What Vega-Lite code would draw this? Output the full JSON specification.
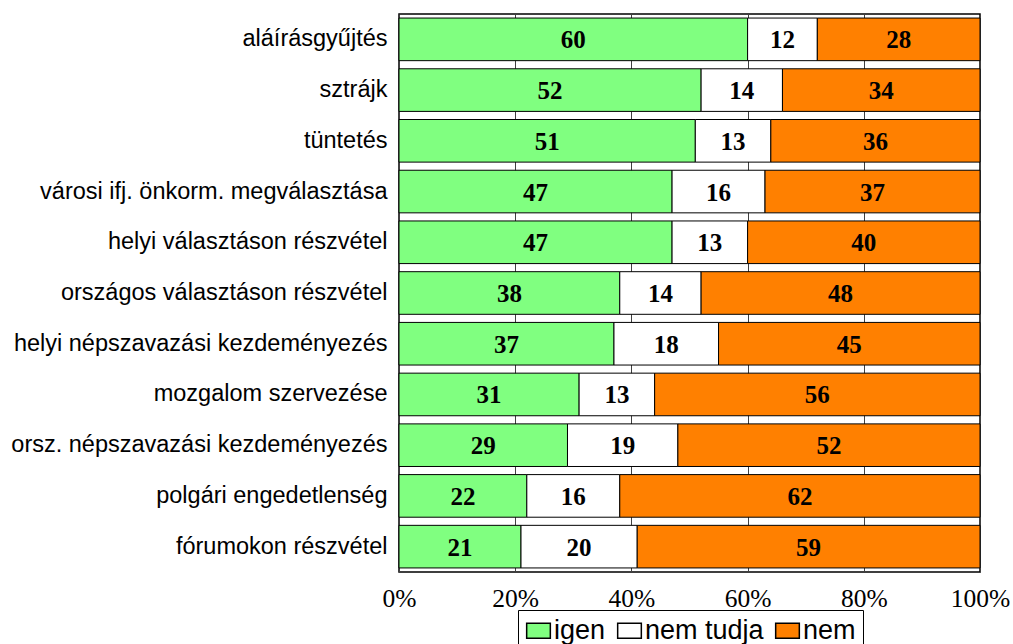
{
  "$schema": "https://vega.github.io/schema/vega-lite/v6.json",
  "autosize": {"type": "none"},
  "padding": {"left": 399, "top": 14, "right": 33, "bottom": 72},
  "width": 581,
  "height": 558,
  "background": "white",
  "data": {"values": [
    {"cat": "aláírásgyűjtés", "igen": 60, "nemtudja": 12, "nem": 28},
    {"cat": "sztrájk", "igen": 52, "nemtudja": 14, "nem": 34},
    {"cat": "tüntetés", "igen": 51, "nemtudja": 13, "nem": 36},
    {"cat": "városi ifj. önkorm. megválasztása", "igen": 47, "nemtudja": 16, "nem": 37},
    {"cat": "helyi választáson részvétel", "igen": 47, "nemtudja": 13, "nem": 40},
    {"cat": "országos választáson részvétel", "igen": 38, "nemtudja": 14, "nem": 48},
    {"cat": "helyi népszavazási kezdeményezés", "igen": 37, "nemtudja": 18, "nem": 45},
    {"cat": "mozgalom szervezése", "igen": 31, "nemtudja": 13, "nem": 56},
    {"cat": "orsz. népszavazási kezdeményezés", "igen": 29, "nemtudja": 19, "nem": 52},
    {"cat": "polgári engedetlenség", "igen": 22, "nemtudja": 16, "nem": 62},
    {"cat": "fórumokon részvétel", "igen": 21, "nemtudja": 20, "nem": 59}
  ]},
  "transform": [
    {"fold": ["igen", "nemtudja", "nem"], "as": ["key", "v"]},
    {"calculate": "datum.key === 'nemtudja' ? 'nem tudja' : datum.key", "as": "resp"},
    {"calculate": "indexof(['igen','nem tudja','nem'], datum.resp)", "as": "ord"},
    {"stack": "v", "groupby": ["cat"], "sort": [{"field": "ord", "order": "ascending"}], "offset": "normalize", "as": ["v0", "v1"]},
    {"calculate": "(datum.v0 + datum.v1) / 2", "as": "mid"}
  ],
  "encoding": {
    "y": {
      "field": "cat", "type": "nominal", "title": null,
      "sort": ["aláírásgyűjtés", "sztrájk", "tüntetés", "városi ifj. önkorm. megválasztása", "helyi választáson részvétel", "országos választáson részvétel", "helyi népszavazási kezdeményezés", "mozgalom szervezése", "orsz. népszavazási kezdeményezés", "polgári engedetlenség", "fórumokon részvétel"],
      "scale": {"paddingInner": 0.16, "paddingOuter": 0.08},
      "axis": {"labelFont": "Liberation Sans", "labelFontSize": 23.5, "labelColor": "black", "labelPadding": 12, "ticks": false, "domain": false, "labelLimit": 400}
    }
  },
  "layer": [
    {
      "mark": {"type": "bar", "stroke": "black", "strokeWidth": 1},
      "encoding": {
        "x": {"field": "v0", "type": "quantitative", "scale": {"domain": [0, 1], "nice": false}, "title": null,
          "axis": {"values": [0, 0.2, 0.4, 0.6, 0.8, 1], "format": "%", "labelFont": "Liberation Serif", "labelFontSize": 25.5, "labelColor": "black", "labelFlush": false, "ticks": false, "domain": false, "labelPadding": 14, "grid": true, "gridColor": "#404040", "gridWidth": 1, "gridOpacity": 1}},
        "x2": {"field": "v1"},
        "color": {"field": "resp", "type": "nominal", "title": null,
          "scale": {"domain": ["igen", "nem tudja", "nem"], "range": ["#80FF80", "#FFFFFF", "#FF8000"]},
          "legend": {"orient": "none", "legendX": 119, "legendY": 596, "direction": "horizontal", "symbolType": "M-1,-0.625H1V0.625H-1Z", "symbolSize": 560, "symbolStrokeColor": "black", "symbolStrokeWidth": 1.5, "symbolOpacity": 1, "labelFont": "Liberation Sans", "labelFontSize": 27, "labelColor": "black", "strokeColor": "black", "padding": 7, "columnPadding": 8, "labelOffset": 2}
        }
      }
    },
    {
      "mark": {"type": "text", "font": "Liberation Serif", "fontWeight": "bold", "fontSize": 25, "color": "black", "baseline": "middle", "dy": 1},
      "encoding": {
        "x": {"field": "mid", "type": "quantitative"},
        "text": {"field": "v", "type": "quantitative"}
      }
    }
  ],
  "config": {"view": {"stroke": "black", "strokeWidth": 1.5}}
}
